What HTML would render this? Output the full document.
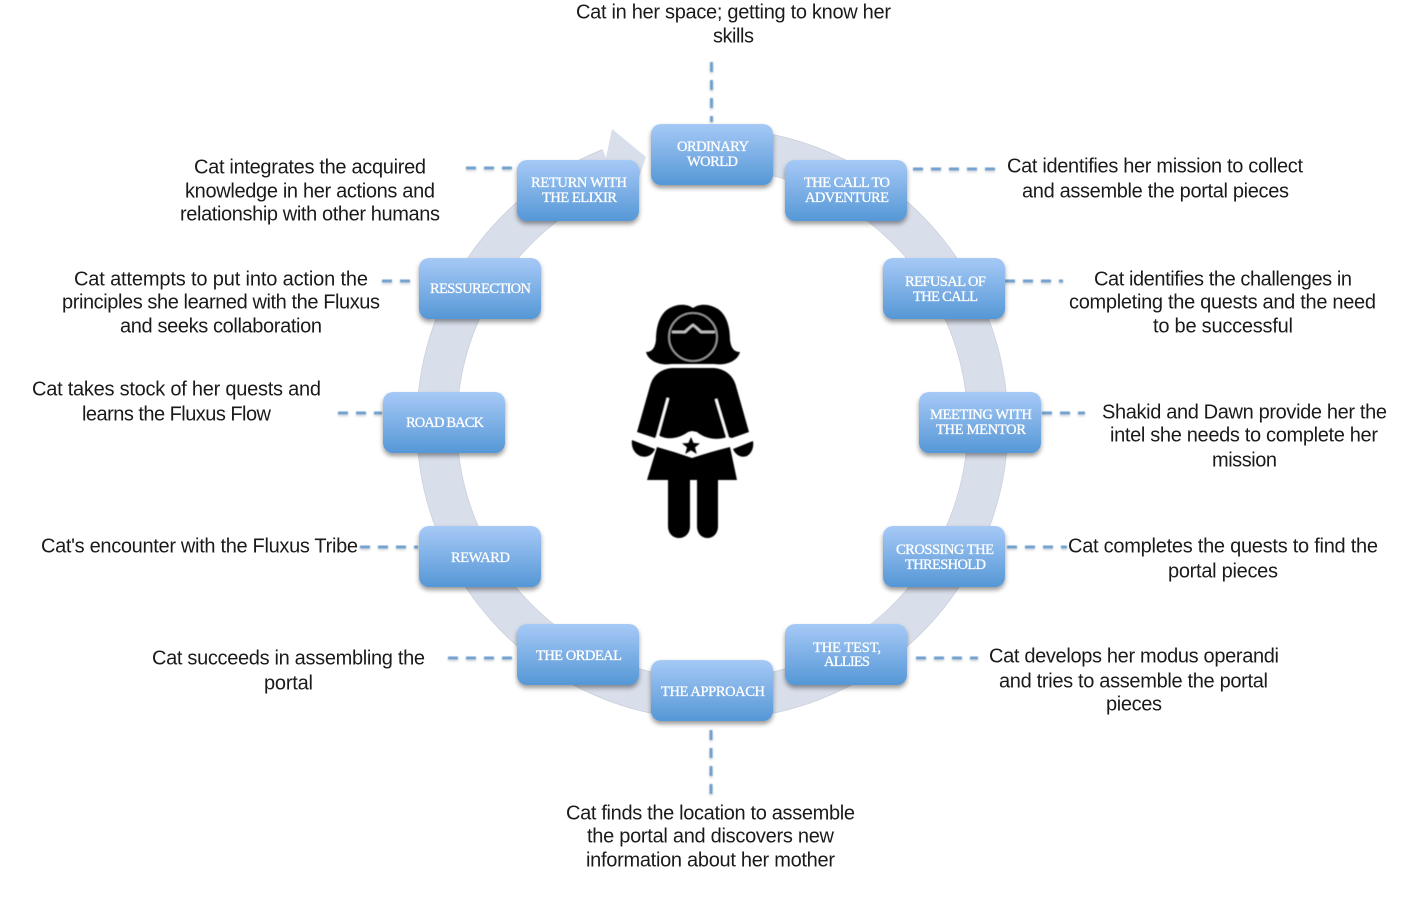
<!DOCTYPE html>
<html>
<head>
<meta charset="utf-8">
<style>
html,body{margin:0;padding:0;background:#fff;width:1419px;height:900px;overflow:hidden}
svg{display:block}
.t text{font-family:"Liberation Sans",sans-serif;font-size:20px;fill:#1a1a1a}
.l text{font-family:"Liberation Serif",serif;font-size:14.5px;font-weight:400;fill:#fff;stroke:#fff;stroke-width:.3}
.d line{stroke:#6f9fce;stroke-width:3;stroke-dasharray:10 8;filter:url(#ds)}
</style>
</head>
<body>
<svg width="1419" height="900" viewBox="0 0 1419 900" xmlns="http://www.w3.org/2000/svg">
<defs>
<linearGradient id="g" x1="0" y1="0" x2="0" y2="1">
<stop offset="0" stop-color="#a6c9f6"/>
<stop offset="1" stop-color="#5597d6"/>
</linearGradient>
<filter id="s" x="-20%" y="-20%" width="140%" height="150%">
<feDropShadow dx="0" dy="3" stdDeviation="2.5" flood-color="#000" flood-opacity=".4"/>
</filter>
<filter id="ds" x="0" y="0" width="1419" height="900" filterUnits="userSpaceOnUse">
<feGaussianBlur in="SourceGraphic" stdDeviation=".5" result="a"/>
<feDropShadow in="a" dx="0" dy="1.5" stdDeviation="1" flood-color="#000" flood-opacity=".2"/>
</filter>
<filter id="b"><feGaussianBlur stdDeviation=".5"/></filter>
<rect id="box" width="122" height="61" rx="10" fill="url(#g)" filter="url(#s)"/>
</defs>

<!-- ring -->
<path d="M 740 149.9 A 275.5 275.5 0 1 1 610 168.2" fill="none" stroke="#c8ced9" stroke-width="41"/>
<path d="M 740 149.9 A 275.5 275.5 0 1 1 610 168.2" fill="none" stroke="#d8deea" stroke-width="39.6"/>
<path d="M 612 129 L 646 157 L 636 186 L 600 186 Z" fill="#d8deea"/>

<!-- dashed connectors -->
<g class="d">
<line x1="711.5" y1="62" x2="711.5" y2="122"/>
<line x1="913" y1="169" x2="995" y2="169"/>
<line x1="1005" y1="281" x2="1063" y2="281"/>
<line x1="1042" y1="413" x2="1085" y2="413"/>
<line x1="1007" y1="547" x2="1067" y2="547"/>
<line x1="916" y1="658" x2="978" y2="658"/>
<line x1="711" y1="730" x2="711" y2="795"/>
<line x1="448" y1="658" x2="515" y2="658"/>
<line x1="360" y1="547" x2="418" y2="547"/>
<line x1="338" y1="413" x2="382" y2="413"/>
<line x1="382" y1="281" x2="418" y2="281"/>
<line x1="466" y1="168" x2="517" y2="168"/>
</g>

<!-- boxes -->
<use href="#box" x="785" y="160"/>
<use href="#box" x="517" y="160"/>
<use href="#box" x="651" y="124"/>
<use href="#box" x="883" y="258"/>
<use href="#box" x="919" y="392"/>
<use href="#box" x="883" y="526"/>
<use href="#box" x="785" y="624"/>
<use href="#box" x="517" y="624"/>
<use href="#box" x="651" y="660"/>
<use href="#box" x="419" y="526"/>
<use href="#box" x="383" y="392"/>
<use href="#box" x="419" y="258"/>

<!-- box labels -->
<g class="l">
<text x="677" y="151" textLength="72">ORDINARY</text>
<text x="687" y="166" textLength="51">WORLD</text>
<text x="531" y="187" textLength="96">RETURN WITH</text>
<text x="542" y="202" textLength="75">THE ELIXIR</text>
<text x="804" y="187" textLength="86">THE CALL TO</text>
<text x="805" y="202" textLength="84">ADVENTURE</text>
<text x="905" y="286" textLength="81">REFUSAL OF</text>
<text x="913" y="301" textLength="65">THE CALL</text>
<text x="930" y="419" textLength="102">MEETING WITH</text>
<text x="936" y="434" textLength="90">THE MENTOR</text>
<text x="896" y="554" textLength="98">CROSSING THE</text>
<text x="905" y="569" textLength="81">THRESHOLD</text>
<text x="813" y="652" textLength="68">THE TEST,</text>
<text x="824" y="666" textLength="46">ALLIES</text>
<text x="661" y="696" textLength="104">THE APPROACH</text>
<text x="536" y="660" textLength="86">THE ORDEAL</text>
<text x="451" y="562" textLength="59">REWARD</text>
<text x="406" y="427" textLength="78">ROAD BACK</text>
<text x="430" y="293" textLength="101">RESSURECTION</text>
</g>

<!-- outer text -->
<g class="t" transform="translate(0 .5)">
<text x="576" y="18" textLength="315">Cat in her space; getting to know her</text>
<text x="713" y="42" textLength="41">skills</text>
<text x="194" y="173" textLength="232">Cat integrates the acquired</text>
<text x="185" y="197" textLength="250">knowledge in her actions and</text>
<text x="180" y="220" textLength="260">relationship with other humans</text>
<text x="74" y="285" textLength="294">Cat attempts to put into action the</text>
<text x="62" y="308" textLength="318">principles she learned with the Fluxus</text>
<text x="120" y="332" textLength="202">and seeks collaboration</text>
<text x="32" y="395" textLength="289">Cat takes stock of her quests and</text>
<text x="82" y="420" textLength="189">learns the Fluxus Flow</text>
<text x="41" y="552" textLength="317">Cat's encounter with the Fluxus Tribe</text>
<text x="152" y="664" textLength="273">Cat succeeds in assembling the</text>
<text x="264" y="689" textLength="49">portal</text>
<text x="566" y="819" textLength="289">Cat finds the location to assemble</text>
<text x="587" y="842" textLength="247">the portal and discovers new</text>
<text x="586" y="866" textLength="249">information about her mother</text>
<text x="989" y="662" textLength="290">Cat develops her modus operandi</text>
<text x="999" y="687" textLength="269">and tries to assemble the portal</text>
<text x="1106" y="710" textLength="56">pieces</text>
<text x="1068" y="552" textLength="310">Cat completes the quests to find the</text>
<text x="1168" y="577" textLength="110">portal pieces</text>
<text x="1102" y="418" textLength="285">Shakid and Dawn provide her the</text>
<text x="1110" y="441" textLength="268">intel she needs to complete her</text>
<text x="1212" y="466" textLength="65">mission</text>
<text x="1094" y="285" textLength="258">Cat identifies the challenges in</text>
<text x="1069" y="308" textLength="307">completing the quests and the need</text>
<text x="1153" y="332" textLength="140">to be successful</text>
<text x="1007" y="172" textLength="296">Cat identifies her mission to collect</text>
<text x="1022" y="197" textLength="267">and assemble the portal pieces</text>
</g>

<!-- figure -->
<g filter="url(#b)">
<path d="M693 308 C686 303 676 304 668 309 C658 316 656 330 656 340 C655 348 652 352 646 352 C648 360 658 366 672 364 L714 364 C728 366 738 360 740 352 C734 352 731 348 730 340 C730 330 728 316 718 309 C710 304 700 303 693 308 Z" fill="#000"/>
<circle cx="693" cy="337" r="24" fill="#000" stroke="#9a9a9a" stroke-width="1.6"/>
<path d="M672 332 L685 332 Q690 327 693 325 Q696 327 701 332 L715 332" fill="none" stroke="#c4c4c4" stroke-width="2.4"/>
<path d="M672 368 L714 368 C725 369 733 375 736 386 L749 432 L732 438 L727 437 C716 441 704 438 697 432 L692 431 L688 432 C680 438 668 441 658 435 L655 438 L637 432 L650 386 C653 375 661 369 672 368 Z" fill="#000"/>
<path d="M668 398 L657 438 M716 399 L728 439" stroke="#fff" stroke-width="2.4" fill="none"/>
<path d="M657 447 Q675 452 692 458 Q710 452 730 447 L737 480 L718 480 L718 526 C718 542 697 542 697 526 L697 480 L690 480 L690 526 C690 542 668 542 668 526 L668 480 L647 480 Z" fill="#000"/>
<path d="M632 440 L655 449 C652 456 646 458 640 456 C634 453 631 447 632 440 Z" fill="#000"/>
<path d="M753 441 L733 449 C736 456 742 458 747 456 C752 453 754 447 753 441 Z" fill="#000"/>
<path d="M691 437 L693.6 443 L700 443.4 L695 447.4 L696.8 454 L691 450.4 L685.2 454 L687 447.4 L682 443.4 L688.4 443 Z" fill="#000"/>
</g>
</svg>
</body>
</html>
